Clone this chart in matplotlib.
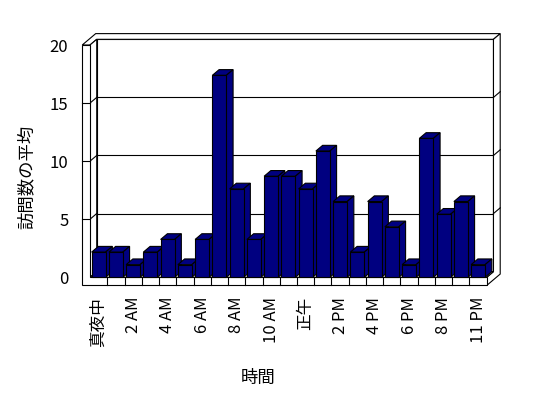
import numpy as np
import matplotlib
matplotlib.use('Agg')
from matplotlib import pyplot as plt
from matplotlib.patches import Polygon

plt.rcParams['font.family'] = ['Noto Sans CJK JP', 'DejaVu Sans']

hours = ['真夜中', '1 AM', '2 AM', '3 AM', '4 AM', '5 AM', '6 AM', '7 AM',
         '8 AM', '9 AM', '10 AM', '11 AM', '正午', '1 PM', '2 PM', '3 PM',
         '4 PM', '5 PM', '6 PM', '7 PM', '8 PM', '9 PM', '11 PM']
visits = [2.17, 2.17, 1.09, 2.17, 3.26, 1.09, 3.26, 17.39, 7.61, 3.26, 8.70,
          8.70, 7.61, 10.87, 6.52, 2.17, 6.52, 4.35, 1.09, 11.96, 5.43, 6.52,
          1.09]
y_ticks = [0, 5, 10, 15, 20]

navy = '#000080'
lw = 0.8
n = len(visits)

W, H = 548, 398
fig = plt.figure(figsize=(W / 100, H / 100), dpi=100)
ax = fig.add_axes([90 / W, (H - 277.3) / H, 396.75 / W, 232.3 / H])
ax.set_xlim(-0.5, n - 0.5)
ax.set_ylim(0, y_ticks[-1])
for s in ax.spines.values():
    s.set_visible(False)

# oblique "3D" step per unit of depth, and wall / floor thickness
dx, dy = 0.39, 0.49
tx, ty = 0.45, 0.7
x0, x1 = -0.5, n - 0.5
top = y_ticks[-1]


def P(x, y, z):
    return (x + z * dx, y + z * dy)


def face(pts, fc='white', z=1):
    ax.add_patch(Polygon([P(*p) for p in pts], closed=True, fc=fc, ec='black',
                         lw=lw, zorder=z, clip_on=False, joinstyle='miter'))


def line(a, b, z=1.5):
    (xa, ya), (xb, yb) = P(*a), P(*b)
    ax.plot([xa, xb], [ya, yb], color='black', lw=lw, zorder=z, clip_on=False)


# walls and floor
face([(x0, 0, 1), (x1, 0, 1), (x1, top, 1), (x0, top, 1)])
face([(x0 - tx, top, 0), (x0, top, 0), (x0, top, 1), (x1, top, 1),
      (x1, top, 2), (x0 - tx, top, 2)])
face([(x0, 0, 0), (x0, top, 0), (x0, top, 1), (x0, 0, 1)])
face([(x1, -ty, 0), (x1, 0, 0), (x1, 0, 1), (x1, top, 1), (x1, top, 2),
      (x1, -ty, 2)])
face([(x0, 0, 0), (x1, 0, 0), (x1, 0, 1), (x0, 0, 1)])
face([(x0 - tx, top, 0), (x0, top, 0), (x0, 0, 0), (x1, 0, 0), (x1, -ty, 0),
      (x0 - tx, -ty, 0)], z=2)

# gridlines
for yv in y_ticks[1:-1]:
    line((x0, yv, 1), (x1, yv, 1))
    line((x0, yv, 0), (x0, yv, 1))
    line((x0 - tx, yv, 0), (x0, yv, 0), z=2.5)
    line((x1, yv, 1), (x1, yv, 2))

# category ticks on the floor front
for k in range(1, n):
    line((x0 + k, -ty, 0), (x0 + k, 0, 0), z=2.5)

# bars
w = 0.81
bars = ax.bar(range(n), visits, width=w, color=navy, edgecolor='black',
              linewidth=lw)
for i, (b, v) in enumerate(zip(bars, visits)):
    b.set_zorder(3 + 2 * i + 1)
    b.set_clip_on(False)
    xl, xr = i - w / 2, i + w / 2
    face([(xl, v, 0), (xr, v, 0), (xr, v, 1), (xl, v, 1)], fc=navy, z=3 + 2 * i)
    face([(xr, 0, 0), (xr, v, 0), (xr, v, 1), (xr, 0, 1)], fc=navy, z=3 + 2 * i)

ax.set_xticks(range(0, n, 2))
ax.set_xticklabels(hours[::2], rotation=90, fontsize=12)
ax.set_yticks(y_ticks)
ax.set_yticklabels([str(t) for t in y_ticks], fontsize=12)
ax.tick_params(axis='x', length=0, pad=14)
ax.tick_params(axis='y', length=0, pad=15.6)

fig.text(26.7 / W, 1 - 176.7 / H, '訪問数の平均', rotation=90, fontsize=12.5,
         ha='center', va='center')
fig.text(258 / W, 1 - 378 / H, '時間', fontsize=12.5, ha='center', va='center')

fig.savefig('out.png', dpi=100)
